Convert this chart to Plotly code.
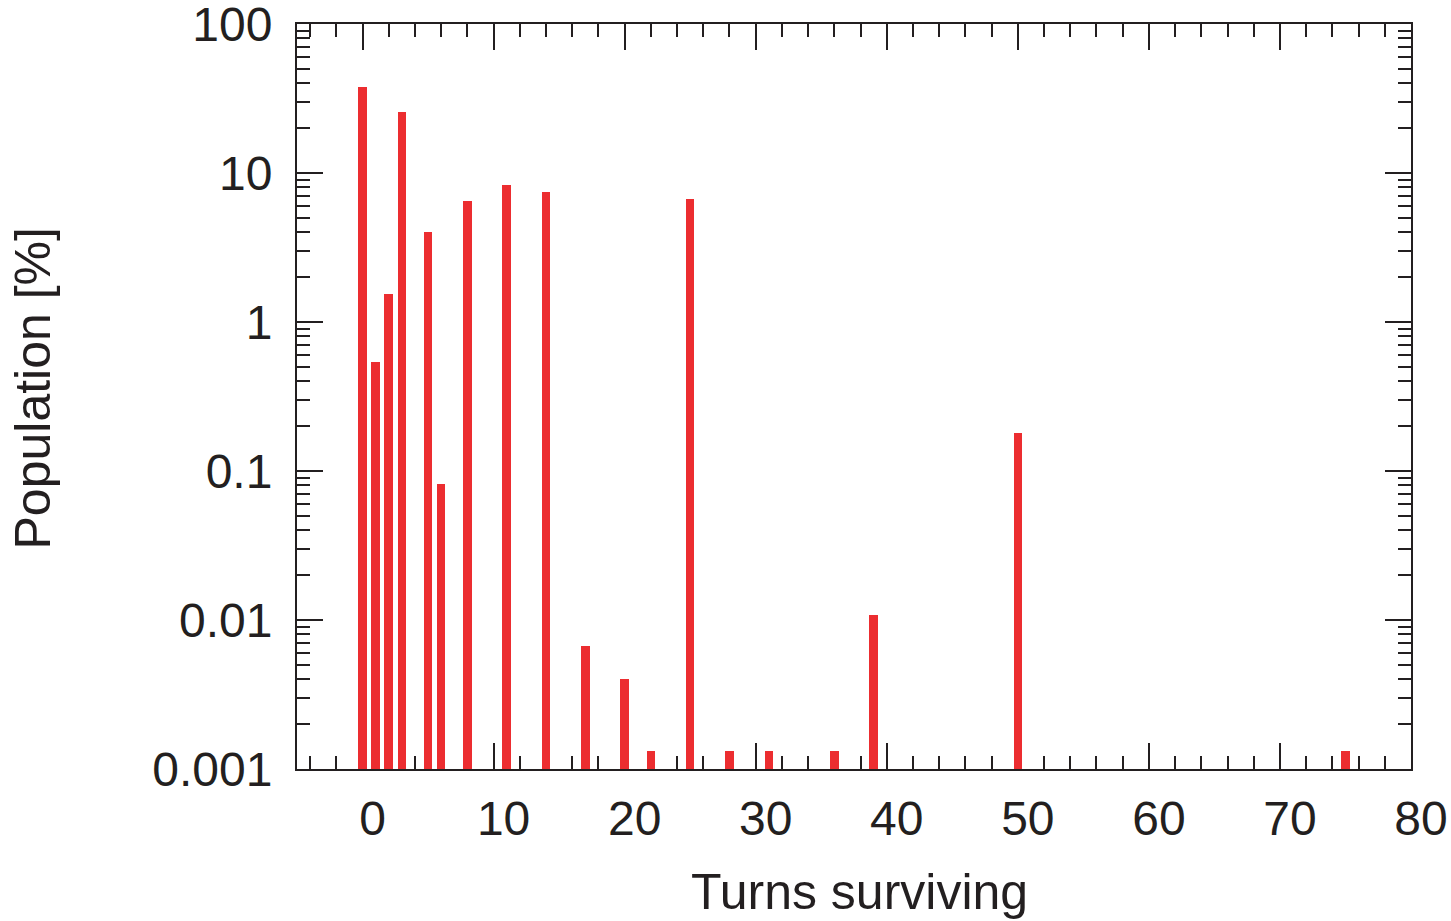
import plotly.graph_objects as go

turns = [0, 1, 2, 3, 5, 6, 8, 11, 14, 17, 20, 22, 25, 28, 31, 36, 39, 50, 75]
population = [38.0, 0.536, 1.54, 25.8, 4.01, 0.082, 6.48, 8.3, 7.45, 0.0067, 0.0040,
              0.00133, 6.68, 0.00133, 0.00133, 0.00133, 0.0108, 0.181, 0.00133]

y_tickvals = [100, 10, 1, 0.1, 0.01, 0.001]
y_ticktext = ["100", "10", "1", "0.1", "0.01", "0.001"]
x_tickvals = [0, 10, 20, 30, 40, 50, 60, 70, 80]

ink = "#231F20"
red = "#EC2D30"
font = "Liberation Sans, Arial, Helvetica, sans-serif"

fig = go.Figure()
fig.add_trace(go.Bar(x=turns, y=population, width=0.65,
                     marker=dict(color=red, line=dict(width=0))))

fig.update_layout(
    width=1451, height=921,
    margin=dict(l=297, r=40, t=24, b=152, autoexpand=False),
    plot_bgcolor="white", paper_bgcolor="white",
    showlegend=False,
    font=dict(family=font, color=ink, size=48),
    bargap=0,
)

fig.update_xaxes(
    range=[-5, 80.001], tickmode="array", tickvals=x_tickvals,
    automargin=False, ticklabeloverflow="allow",
    showgrid=False, zeroline=False, layer="below traces",
    showline=True, linecolor=ink, linewidth=2, mirror="allticks",
    ticks="inside", ticklen=26, tickwidth=2, tickcolor=ink,
    ticklabelstandoff=6, ticklabelshift=10,
    tickfont=dict(size=48, family=font, color=ink),
    minor=dict(dtick=2, ticks="inside", ticklen=13, tickwidth=2, tickcolor=ink, showgrid=False),
)
fig.update_yaxes(
    type="log", range=[-3.0002, 2.0002], tickmode="array", tickvals=y_tickvals, ticktext=y_ticktext,
    automargin=False, ticklabeloverflow="allow",
    showgrid=False, zeroline=False, layer="below traces",
    showline=True, linecolor=ink, linewidth=2, mirror="allticks",
    ticks="inside", ticklen=26, tickwidth=2, tickcolor=ink,
    ticklabelstandoff=13,
    tickfont=dict(size=48, family=font, color=ink),
    minor=dict(dtick="D1", ticks="inside", ticklen=13, tickwidth=2, tickcolor=ink, showgrid=False),
)

fig.add_annotation(text="Turns surviving", xref="paper", yref="paper",
                   x=0.5, y=0, xshift=5, yshift=-123, yanchor="middle", xanchor="center",
                   showarrow=False, font=dict(size=50, family=font, color=ink))
fig.add_annotation(text="Population [%]", xref="paper", yref="paper",
                   x=0, y=0.5, xshift=-265, yshift=8, textangle=-90,
                   xanchor="center", yanchor="middle",
                   showarrow=False, font=dict(size=50, family=font, color=ink))

fig.write_html("out.html",
               config={"displayModeBar": False},
               post_script="document.body.style.margin='0';document.body.style.overflow='hidden';")
